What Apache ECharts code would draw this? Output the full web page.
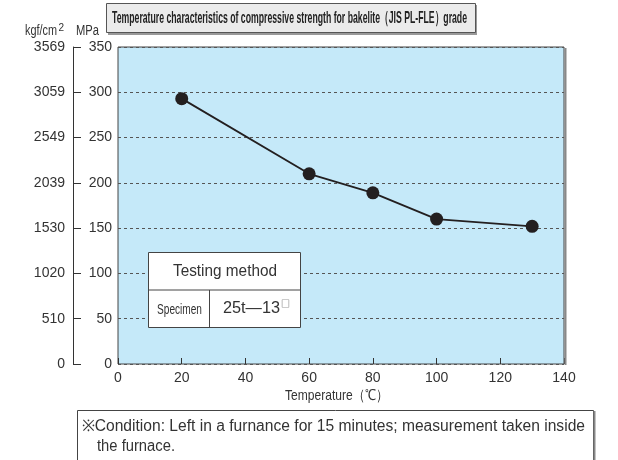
<!DOCTYPE html>
<html><head><meta charset="utf-8">
<script src="https://cdn.jsdelivr.net/npm/echarts@6/dist/echarts.min.js"></script>
<style>html,body{margin:0;padding:0;background:#fff}#c{width:618px;height:460px}</style>
</head><body><div id="c"></div>
<script>
const temperatures = [20, 60, 80, 100, 130];
const strengthMPa = [293, 210, 189, 160, 152];
const mpaTicks = [0, 50, 100, 150, 200, 250, 300, 350];
const kgfLabels = ['0', '510', '1020', '1530', '2039', '2549', '3059', '3569'];
const xTicks = [0, 20, 40, 60, 80, 100, 120, 140];
const titleText = 'Temperature characteristics of compressive strength for bakelite（JIS PL-FLE）grade';
const xName = 'Temperature（℃）';
const noteLine1 = '※Condition: Left in a furnance for 15 minutes; measurement taken inside';
const noteLine2 = 'the furnace.';

const sans = '"Liberation Sans", Arial, sans-serif';
const cjk = '"Noto Sans CJK JP", sans-serif';
const mctx = document.createElement('canvas').getContext('2d');
function fit(text, font, target) {
  mctx.font = font;
  const w = mctx.measureText(text).width;
  return target / w;
}
// condensed text element: left x, centre y, target width
function condText(text, x, y, size, weight, target, fill, z) {
  const font = weight + ' ' + size + 'px ' + sans;
  return {type: 'text', x: x, y: y, z: z || 7, scaleX: fit(text, font, target), originX: 0, originY: 0,
    style: {text: text, fontFamily: sans, fontWeight: weight, fontSize: size, fill: fill || '#333', align: 'left', verticalAlign: 'middle'}};
}

const chart = echarts.init(document.getElementById('c'), null, {renderer: 'canvas'});
const seriesData = temperatures.map((t, i) => [t, strengthMPa[i]]);

chart.setOption({
  animation: false,
  backgroundColor: '#ffffff',
  grid: {left: 118, right: 54, top: 47, bottom: 96, show: true,
         backgroundColor: '#c5e9f9', borderColor: '#444', borderWidth: 1},
  xAxis: {
    type: 'value', min: xTicks[0], max: xTicks[xTicks.length - 1], interval: 20,
    axisLine: {show: false},
    axisTick: {show: true, inside: true, length: 6, lineStyle: {color: '#333'}},
    axisLabel: {fontFamily: sans, fontSize: 14, color: '#333', margin: 7},
    splitLine: {show: false}
  },
  yAxis: [
    {
      type: 'value', min: mpaTicks[0], max: mpaTicks[mpaTicks.length - 1], interval: 50,
      position: 'left',
      axisLine: {show: false}, axisTick: {show: false},
      axisLabel: {fontFamily: sans, fontSize: 14, color: '#333', margin: 6},
      splitLine: {show: true, lineStyle: {color: '#555', type: [3, 3], width: 1}}
    },
    {
      type: 'value', min: mpaTicks[0], max: mpaTicks[mpaTicks.length - 1], interval: 50,
      position: 'left', offset: 45,
      axisLine: {show: true, lineStyle: {color: '#333', width: 1}},
      axisTick: {show: true, inside: true, length: 8, lineStyle: {color: '#333'}},
      axisLabel: {fontFamily: sans, fontSize: 14, color: '#333', margin: 8,
        formatter: v => kgfLabels[mpaTicks.indexOf(v)] ?? ''},
      splitLine: {show: false}
    }
  ],
  series: [{
    type: 'line', data: seriesData, yAxisIndex: 0,
    symbol: 'circle', symbolSize: 13,
    itemStyle: {color: '#231f20'},
    lineStyle: {color: '#231f20', width: 1.8},
    z: 5
  }],
  graphic: [
    {type: 'line', shape: {x1: 565.5, y1: 48, x2: 565.5, y2: 365}, style: {stroke: '#888', lineWidth: 2}, z: 10},
    // title box
    {type: 'rect', shape: {x: 108, y: 5, width: 369, height: 30}, style: {fill: '#999'}, z: 1},
    {type: 'rect', shape: {x: 106.5, y: 3.5, width: 369, height: 29}, style: {fill: '#ebebeb', stroke: '#555', lineWidth: 1}, z: 2},
    condText(titleText, 112, 18.5, 17, 'bold', 355, '#222', 3),
    // unit labels
    condText('kgf/cm', 25, 31.5, 14, 'normal', 32, '#333', 3),
    {type: 'text', x: 58.5, y: 28, z: 3, style: {text: '2', fontFamily: sans, fontSize: 10, fill: '#333', align: 'left', verticalAlign: 'middle'}},
    condText('MPa', 76, 31.5, 14, 'normal', 23, '#333', 3),
    // x axis name
    condText(xName, 285, 396, 15, 'normal', 103, '#333', 3),
    // testing method table
    {type: 'rect', shape: {x: 148.5, y: 252.5, width: 152, height: 75}, style: {fill: '#fff', stroke: '#444', lineWidth: 1}, z: 6},
    {type: 'line', shape: {x1: 148.5, y1: 290, x2: 300.5, y2: 290}, style: {stroke: '#444', lineWidth: 1}, z: 7},
    {type: 'line', shape: {x1: 209.5, y1: 290, x2: 209.5, y2: 327.5}, style: {stroke: '#444', lineWidth: 1}, z: 7},
    condText('Testing method', 173, 272, 16, 'normal', 104, '#333', 7),
    condText('Specimen', 157, 310, 14, 'normal', 45, '#333', 7),
    condText('25t—13', 223, 309, 16, 'normal', 57, '#333', 7),
    {type: 'text', x: 281, y: 304, z: 7, style: {text: '□', fontFamily: cjk, fontSize: 9, fill: '#333', align: 'left', verticalAlign: 'middle'}},
    // footer
    {type: 'rect', shape: {x: 77.5, y: 410.5, width: 516, height: 60}, style: {fill: '#fff', stroke: '#444', lineWidth: 1}, z: 2},
    {type: 'line', shape: {x1: 594.5, y1: 411, x2: 594.5, y2: 460}, style: {stroke: '#888', lineWidth: 2}, z: 3},
    condText(noteLine1, 82, 427, 16, 'normal', 503, '#333', 3),
    condText(noteLine2, 97, 447, 16, 'normal', 78, '#333', 3)
  ]
});
</script></body></html>
